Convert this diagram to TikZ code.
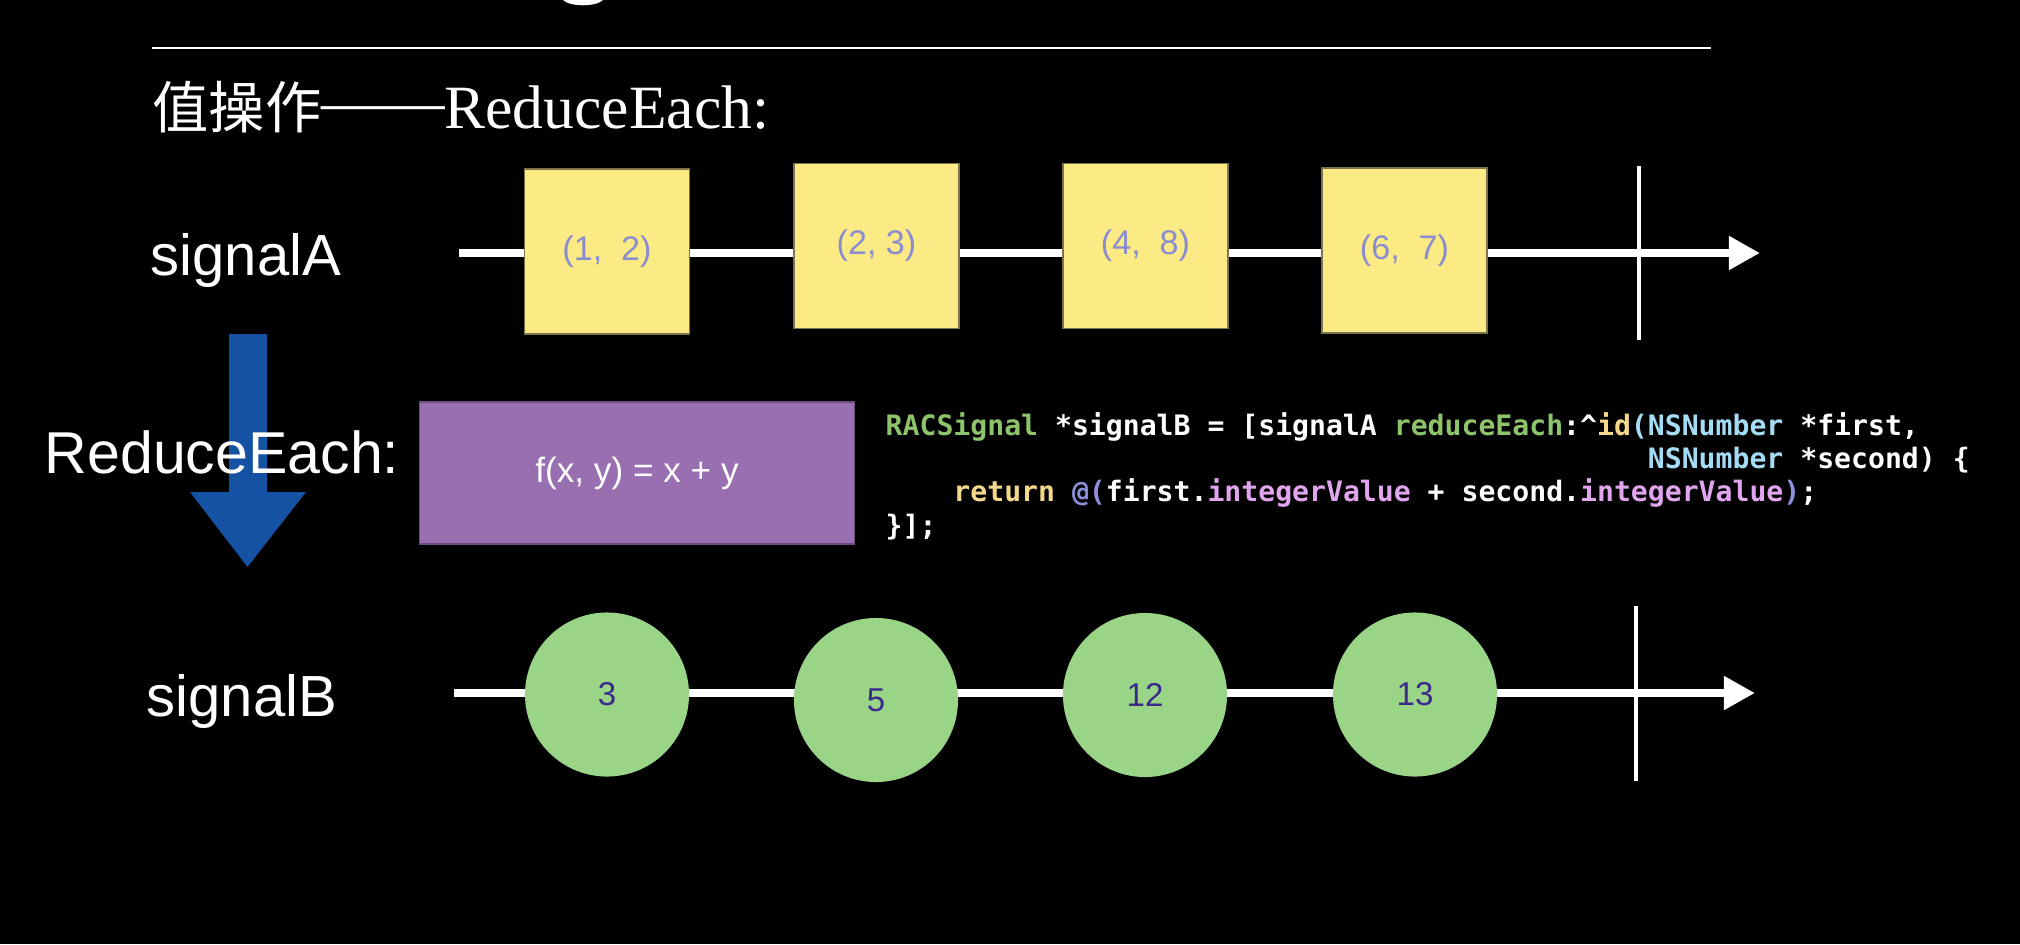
\documentclass[tikz,border=0pt]{standalone}
\usepackage{fontspec}
\setmainfont{Liberation Sans}
\setmonofont{DejaVu Sans Mono}
\newfontfamily\cjk{Noto Sans CJK SC}
\newfontfamily\titleserif{Liberation Serif}
\usetikzlibrary{arrows.meta, positioning}
\definecolor{evfill}{HTML}{FCEB85}
\definecolor{evedge}{HTML}{7C744A}
\definecolor{evtext}{HTML}{8A8CD0}
\definecolor{resfill}{HTML}{9AD486}
\definecolor{restext}{HTML}{3A2A8C}
\definecolor{fnfill}{HTML}{986FB0}
\definecolor{fnedge}{HTML}{6C4E80}
\definecolor{opblue}{HTML}{1652A3}
\definecolor{codegreen}{HTML}{8DC36A}
\definecolor{codeyellow}{HTML}{F5D88C}
\definecolor{codeblue}{HTML}{A5DCF5}
\definecolor{codeviolet}{HTML}{8E8FDC}
\definecolor{codepink}{HTML}{E1A4EE}

\begin{document}
\begin{tikzpicture}[x=0.01cm, y=-0.01cm, every node/.style={inner sep=0pt, text=white},
  sig/.style={anchor=base west, font=\fontsize{16.5}{20}\selectfont},
  axis/.style={white, line width=0.8mm, -{Triangle[length=3.1mm, width=3.2mm]}},
  endtick/.style={white, line width=0.35mm},
  event/.style={rectangle, fill=evfill, draw=evedge, line width=0.12mm, minimum size=16.5mm, text=evtext, font=\fontsize{9.7}{11}\selectfont},
  result/.style={circle, fill=resfill, minimum size=16.4mm, text=restext, font=\fontsize{9.4}{11}\selectfont},
  codeline/.style={anchor=base west, font=\ttfamily\bfseries\fontsize{8}{9.5}\selectfont}]
\fill[black] (0,0) rectangle (2020,944);
\useasboundingbox (0,0) rectangle (2020,944);
\fill[white] (563,0) .. controls (570,7) and (596,7) .. (603,0) -- cycle;
\coordinate (ruleL) at (152,48);
\coordinate (ruleR) at (1711,48);
\draw[white, line width=0.25mm] (ruleL) -- (ruleR);
\node[anchor=base west] (title) at (152,128) {{\cjk\fontsize{16}{20}\selectfont 值操作}{\titleserif\fontsize{17.5}{20}\selectfont\raisebox{0.6mm}{——}ReduceEach:}};

\node[sig] (sigA) at (150,275) {signalA};
\coordinate (aStart) at (459,253);
\coordinate (aEnd) at (1760,253);
\draw[axis] (aStart) -- (aEnd);
\coordinate (aTickTop) at (1639,166);
\coordinate (aTickBot) at (1639,340);
\draw[endtick] (aTickTop) -- (aTickBot);
\foreach \x/\y/\t [count=\i] in {607/251.5/{(1,\ \ 2)}, 876.5/246/{(2, 3)}, 1145.5/246/{(4,\ \ 8)}, 1404.5/250.5/{(6,\ \ 7)}}
  \node[event] (ev\i) at (\x,\y) {\t};

\fill[opblue] (229,334) -- (267,334) -- (267,492) -- (306,492) -- (247.5,567) -- (190,492) -- (229,492) -- cycle;
\node[sig, font=\fontsize{16.8}{20}\selectfont] (op) at (44,473) {ReduceEach:};
\node[rectangle, fill=fnfill, draw=fnedge, line width=0.12mm, minimum width=43.4mm, minimum height=14.2mm, font=\fontsize{10}{12}\selectfont] (fn) at (637,473) {f(x, y) = x + y};

\node[codeline] (code1) at (885,435) {\textcolor{codegreen}{RACSignal} *signalB = [signalA \textcolor{codegreen}{reduceEach}:\textasciicircum\textcolor{codeyellow}{id}\textcolor{codeblue}{(NSNumber} *first,};
\node[codeline] (code2) at (885,468.3) {\phantom{RACSignal *signalB = [signalA reduceEach:\textasciicircum id(}\textcolor{codeblue}{NSNumber} *second) \{};
\node[codeline] (code3) at (885,501.6) {\phantom{xxxx}\textcolor{codeyellow}{return} \textcolor{codeviolet}{@(}first.\textcolor{codepink}{integerValue} + second.\textcolor{codepink}{integerValue}\textcolor{codeviolet}{)};};
\node[codeline] (code4) at (885,535) {\}];};

\node[sig] (sigB) at (146,716) {signalB};
\coordinate (bStart) at (454,693);
\coordinate (bEnd) at (1755,693);
\draw[axis] (bStart) -- (bEnd);
\coordinate (bTickTop) at (1636,606);
\coordinate (bTickBot) at (1636,781);
\draw[endtick] (bTickTop) -- (bTickBot);
\foreach \x/\y/\t [count=\i] in {607/694.5/3, 876/700/5, 1145/695/12, 1415/694.5/13}
  \node[result] (res\i) at (\x,\y) {\t};
\end{tikzpicture}
\end{document}
